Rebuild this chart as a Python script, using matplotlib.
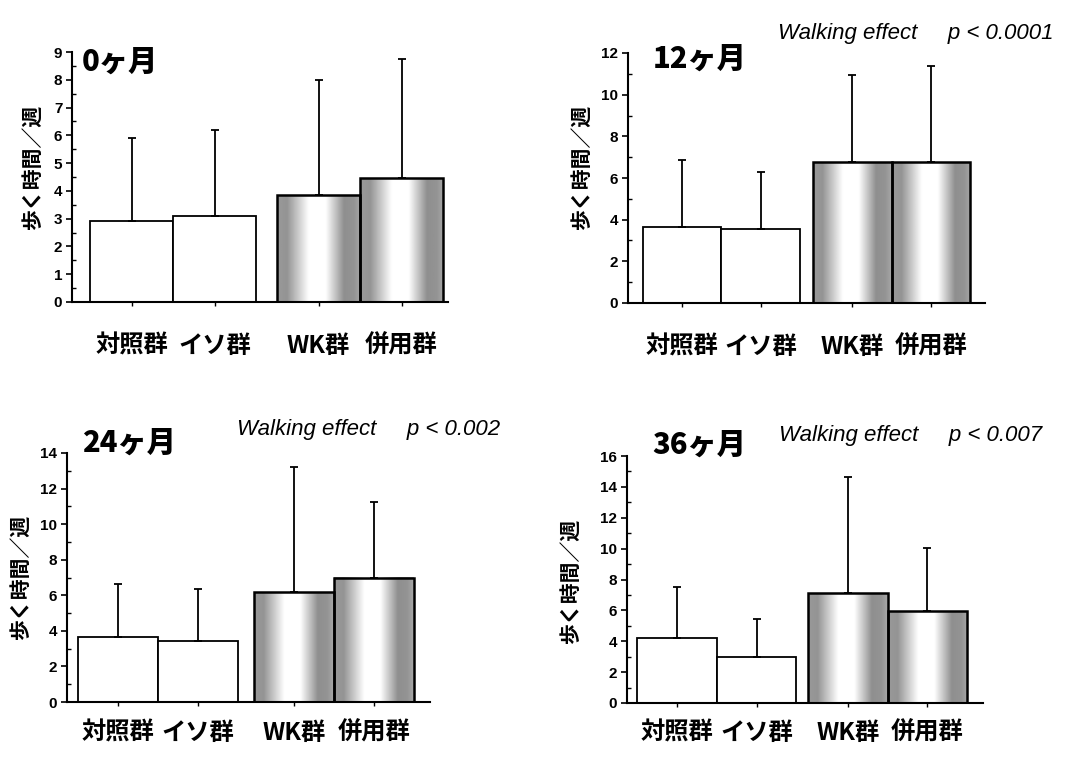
import numpy as np
import matplotlib
matplotlib.use("Agg")
import matplotlib.pyplot as plt
from matplotlib import font_manager
from matplotlib.ticker import MultipleLocator
from matplotlib.transforms import blended_transform_factory

plt.rcParams['font.family'] = ['Noto Sans CJK JP', 'DejaVu Sans']

# データ
groups = ['対照群', 'イソ群', 'WK群', '併用群']
titles = ['0ヶ月', '12ヶ月', '24ヶ月', '36ヶ月']
p_texts = ['', 'Walking effect     p < 0.0001', 'Walking effect     p < 0.002', 'Walking effect     p < 0.007']
ylabel = '歩く時間／週'

mean_0 = [2.9, 3.1, 3.85, 4.45]
sd_0 = [3.0, 3.1, 4.15, 4.3]
mean_12 = [3.63, 3.57, 6.75, 6.75]
sd_12 = [3.22, 2.7, 4.21, 4.64]
mean_24 = [3.67, 3.42, 6.18, 6.99]
sd_24 = [2.95, 2.95, 7.02, 4.23]
mean_36 = [4.22, 2.95, 7.11, 5.95]
sd_36 = [3.32, 2.52, 7.55, 4.07]

ymax = [9, 12, 14, 16]
ystep = [1, 2, 2, 2]

means = [mean_0, mean_12, mean_24, mean_36]
sds = [sd_0, sd_12, sd_24, sd_36]

W, H = 1091, 758

# 配置（ピクセル）
layout = [
    dict(ax=(72, 52, 376, 250), gap=0.25, xl=(-0.72, 3.81), lab=44, yl=(32, 167), tt=(82, 62), pt=None),
    dict(ax=(628, 53, 357, 250), gap=0.17, xl=(-0.69, 3.86), lab=44, yl=(581, 167), tt=(653, 59), pt=(1053, 33)),
    dict(ax=(67, 453, 363, 249), gap=0.2, xl=(-0.64, 3.90), lab=31, yl=(20, 577), tt=(82, 443), pt=(500, 430)),
    dict(ax=(627, 456, 356, 247), gap=0.15, xl=(-0.63, 3.85), lab=30, yl=(570, 581), tt=(652, 445), pt=(1042, 435)),
]

names = {f.name for f in font_manager.fontManager.ttflist}
tick_font = 'Liberation Sans Narrow' if 'Liberation Sans Narrow' in names else 'Liberation Sans'

# グラデーション
gpos = [0, 0.12, 0.38, 0.58, 0.8, 0.92, 1.0]
gval = [0.6, 0.58, 1.0, 1.0, 0.56, 0.58, 0.66]
grad = np.interp(np.linspace(0, 1, 200), gpos, gval)[None, :]

fig = plt.figure(figsize=(W / 100, H / 100), dpi=100)

for i in range(4):
    L = layout[i]
    x0, y0, w, h = L['ax']
    ax = fig.add_axes([x0 / W, 1 - (y0 + h) / H, w / W, h / H])
    g = L['gap']
    xs = [0, 1, 2 + g, 3 + g]
    m = means[i]
    s = sds[i]

    for j in range(4):
        if j < 2:
            ax.bar(xs[j], m[j], width=1.0, color='white', edgecolor='black', linewidth=1.3, zorder=2)
        else:
            ax.imshow(grad, cmap='gray', vmin=0, vmax=1, aspect='auto', interpolation='bilinear',
                      extent=(xs[j] - 0.5, xs[j] + 0.5, 0, m[j]), zorder=1)
            ax.bar(xs[j], m[j], width=1.0, color='none', edgecolor='black', linewidth=1.8, zorder=2)

    ax.errorbar(xs, m, yerr=[np.zeros(4), s], fmt='none', ecolor='black',
                elinewidth=1.3, capsize=3, capthick=1.3, zorder=3)

    ax.set_xlim(*L['xl'])
    ax.set_ylim(0, ymax[i])
    for sp in ['top', 'right']:
        ax.spines[sp].set_visible(False)
    ax.spines['left'].set_linewidth(1.5)
    ax.spines['bottom'].set_linewidth(1.5)

    ax.yaxis.set_major_locator(MultipleLocator(ystep[i]))
    ax.yaxis.set_minor_locator(MultipleLocator(ystep[i] / 2))
    ax.tick_params(axis='y', which='major', direction='out', length=4, width=1.2, pad=3)
    ax.tick_params(axis='y', which='minor', direction='in', length=3, width=1.0)
    for t in ax.get_yticklabels():
        t.set_fontfamily(tick_font)
        t.set_fontsize(11)
        t.set_fontweight('bold')

    ax.set_xticks(xs)
    ax.set_xticklabels([])
    ax.tick_params(axis='x', which='major', direction='out', length=3, width=1.0)

    tr = blended_transform_factory(ax.transData, ax.transAxes)
    for j in range(4):
        ax.text(xs[j], -L['lab'] / h, groups[j], transform=tr, ha='center', va='center',
                fontsize=17.5, fontweight='bold')

    fig.text(L['yl'][0] / W, 1 - L['yl'][1] / H, ylabel, rotation=90, ha='center', va='center',
             fontsize=15, fontweight='bold')
    fig.text(L['tt'][0] / W, 1 - L['tt'][1] / H, titles[i], ha='left', va='center',
             fontsize=21, fontweight='heavy')
    if L['pt'] is not None:
        fig.text(L['pt'][0] / W, 1 - L['pt'][1] / H, p_texts[i], ha='right', va='center',
                 fontsize=16, style='italic', family=['Liberation Sans', 'DejaVu Sans'])

fig.savefig('out.png', dpi=100)
